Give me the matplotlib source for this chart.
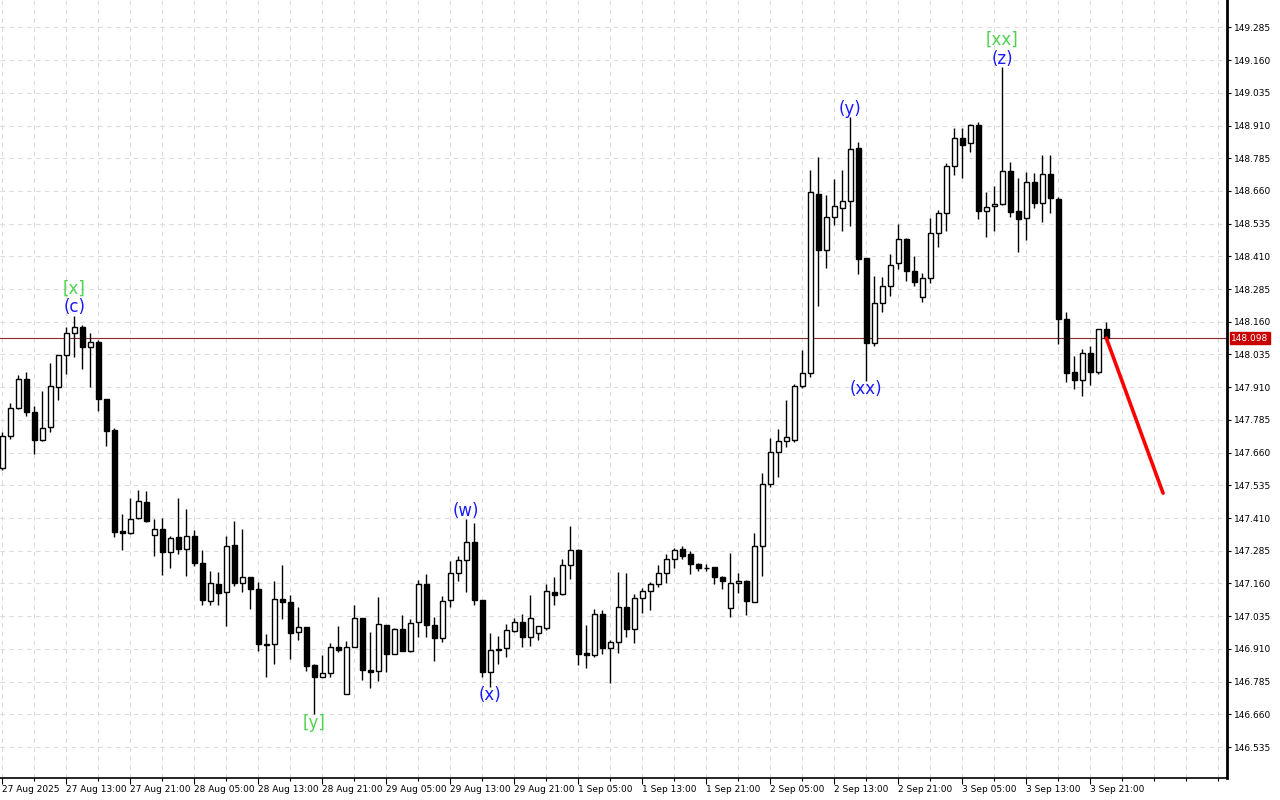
import matplotlib
matplotlib.use('Agg')
import matplotlib.pyplot as plt
from matplotlib.ticker import FixedLocator

# ---------------- data (hourly bars, USDJPY-like) ----------------
opens = [147.601,147.724,147.829,147.941,147.814,147.707,147.757,147.912,148.032,148.116,
         148.139,148.065,148.083,147.865,147.745,147.361,147.352,147.409,147.470,147.344,
         147.367,147.279,147.336,147.293,147.341,147.237,147.092,147.157,147.126,147.306,
         147.163,147.184,147.139,146.929,146.928,147.100,147.089,146.973,146.993,146.847,
         146.804,146.817,146.916,146.739,146.918,147.027,146.829,146.824,147.000,146.892,
         146.985,146.903,147.012,147.157,147.000,146.951,147.096,147.199,147.249,147.317,
         147.096,146.823,146.905,146.912,146.977,147.014,146.957,146.970,146.989,147.127,
         147.119,147.229,147.288,146.894,146.886,147.042,146.912,146.935,147.069,146.985,
         147.103,147.130,147.158,147.199,147.252,147.291,147.272,147.233,147.220,147.222,
         147.184,147.065,147.161,147.168,147.090,147.302,147.539,147.661,147.703,147.708,
         147.915,147.963,148.647,148.434,148.560,148.594,148.620,148.824,148.403,148.080,
         148.231,148.296,148.383,148.475,148.353,148.254,148.326,148.498,148.577,148.754,
         148.861,148.842,148.911,148.582,148.602,148.609,148.735,148.582,148.555,148.693,
         148.613,148.724,148.628,148.170,147.967,147.938,148.040,147.967,148.131]
highs = [147.739,147.848,147.957,147.968,147.838,147.896,148.002,148.033,148.141,148.182,
         148.148,148.116,148.090,147.865,147.753,147.424,147.486,147.517,147.513,147.406,
         147.410,147.341,147.487,147.445,147.364,147.288,147.208,147.204,147.341,147.399,
         147.368,147.186,147.165,146.966,147.168,147.231,147.116,147.070,146.995,146.851,
         146.886,146.934,146.998,146.940,147.077,147.029,146.975,147.107,147.002,146.989,
         147.038,147.023,147.173,147.196,147.032,147.111,147.246,147.265,147.405,147.390,
         147.098,146.970,146.959,147.004,147.027,147.042,147.116,146.998,147.158,147.186,
         147.252,147.380,147.290,147.001,147.062,147.059,146.944,147.204,147.199,147.119,
         147.142,147.165,147.231,147.273,147.294,147.303,147.284,147.239,147.234,147.224,
         147.189,147.275,147.201,147.173,147.352,147.581,147.717,147.750,147.861,147.922,
         148.052,148.740,148.789,148.643,148.706,148.740,148.941,148.848,148.405,148.335,
         148.332,148.419,148.534,148.480,148.411,148.345,148.555,148.587,148.767,148.899,
         148.899,148.916,148.922,148.655,148.679,149.132,148.769,148.709,148.732,148.727,
         148.796,148.797,148.638,148.196,148.029,148.055,148.067,148.133,148.159]
lows = [147.594,147.711,147.826,147.800,147.654,147.705,147.740,147.861,147.960,148.027,
        147.980,147.912,147.820,147.686,147.339,147.288,147.350,147.407,147.396,147.266,
        147.194,147.220,147.274,147.190,147.228,147.078,147.078,147.079,146.999,147.152,
        147.129,147.064,146.902,146.804,146.853,147.025,146.873,146.944,146.827,146.660,
        146.801,146.804,146.899,146.737,146.916,146.792,146.762,146.789,146.823,146.889,
        146.901,146.899,146.957,146.957,146.865,146.938,147.071,147.171,147.129,147.078,
        146.804,146.766,146.853,146.880,146.975,146.918,146.921,146.944,146.982,147.078,
        147.117,147.178,146.849,146.837,146.880,146.891,146.781,146.895,146.957,146.934,
        147.048,147.058,147.148,147.163,147.220,147.252,147.195,147.209,147.209,147.157,
        147.139,147.031,147.122,147.041,147.088,147.190,147.528,147.568,147.683,147.701,
        147.906,147.950,148.220,148.364,148.530,148.507,148.527,148.343,147.935,148.067,
        148.198,148.260,148.362,148.317,148.297,148.237,148.307,148.447,148.507,148.721,
        148.708,148.808,148.552,148.485,148.508,148.607,148.562,148.428,148.473,148.596,
        148.542,148.575,148.074,147.929,147.904,147.878,147.917,147.959,148.084]
closes = [147.724,147.829,147.940,147.814,147.707,147.753,147.913,148.032,148.116,148.139,
          148.065,148.082,147.864,147.744,147.356,147.352,147.405,147.474,147.400,147.367,
          147.281,147.333,147.293,147.340,147.239,147.096,147.161,147.122,147.302,147.163,
          147.186,147.138,146.928,146.926,147.100,147.090,146.972,146.993,146.846,146.804,
          146.817,146.916,146.907,146.918,147.027,146.831,146.823,147.004,146.889,146.985,
          146.903,147.010,147.157,147.000,146.951,147.092,147.199,147.249,147.317,147.096,
          146.823,146.905,146.911,146.981,147.014,146.957,147.027,146.996,147.131,147.117,
          147.229,147.287,146.892,146.888,147.042,146.912,146.935,147.069,146.985,147.103,
          147.130,147.157,147.199,147.252,147.287,147.266,147.233,147.218,147.218,147.184,
          147.171,147.161,147.168,147.092,147.302,147.539,147.661,147.703,147.721,147.915,
          147.963,148.655,148.434,148.560,148.601,148.622,148.819,148.400,148.080,148.231,
          148.296,148.377,148.475,148.355,148.313,148.326,148.498,148.575,148.754,148.861,
          148.837,148.911,148.584,148.597,148.610,148.735,148.581,148.554,148.693,148.615,
          148.724,148.632,148.170,147.965,147.938,148.040,147.969,148.131,148.098]

time_labels = ['27 Aug 2025', '27 Aug 13:00', '27 Aug 21:00', '28 Aug 05:00', '28 Aug 13:00',
               '28 Aug 21:00', '29 Aug 05:00', '29 Aug 13:00', '29 Aug 21:00', '1 Sep 05:00',
               '1 Sep 13:00', '1 Sep 21:00', '2 Sep 05:00', '2 Sep 13:00', '2 Sep 21:00',
               '3 Sep 05:00', '3 Sep 13:00', '3 Sep 21:00']
bars_per_label = 8

price_ticks = [146.535, 146.660, 146.785, 146.910, 147.035, 147.160, 147.285, 147.410,
               147.535, 147.660, 147.785, 147.910, 148.035, 148.160, 148.285, 148.410,
               148.535, 148.660, 148.785, 148.910, 149.035, 149.160, 149.285]
last_price = 148.098

# forecast arrow (bar index, price)
forecast_x = [138, 145.1]
forecast_y = [148.098, 147.505]

# wave labels: text, bar index, price, colour group
wave_text = ['[x]', '(c)', '[y]', '(w)', '(x)', '(y)', '(xx)', '[xx]', '(z)']
wave_bar = [9, 9, 39, 58, 61, 106, 108, 125, 125]
wave_price = [148.285, 148.216, 146.627, 147.437, 146.734, 148.973, 147.903, 149.237, 149.164]
wave_group = ['major', 'minor', 'major', 'minor', 'minor', 'minor', 'minor', 'major', 'minor']

# ---------------- figure ----------------
W, H = 1280, 800
fig = plt.figure(figsize=(W / 100, H / 100), dpi=100)
ax = fig.add_axes([0, 22 / H, 1227 / W, 778 / H])
ax.set_facecolor('white')

n = len(opens)
xs = list(range(n))

ax.set_xlim(-0.2875, 153.09)
ax.set_ylim(146.4167, 149.3896)

# grid
for p in price_ticks:
    ax.axhline(p, color='#dcdcdc', lw=0.8, ls=(0, (4, 4)), zorder=0)
for k in range(0, 154, 4):
    ax.axvline(k, color='#dcdcdc', lw=0.8, ls=(0, (4, 4)), zorder=0)

# candles
body_w = 0.6
for i in xs:
    o, h, l, c = opens[i], highs[i], lows[i], closes[i]
    ax.vlines(i, l, h, color='black', lw=1.0, zorder=2)
    bull = c > o
    bottom = min(o, c)
    height = max(abs(c - o), 0.0015)
    ax.bar(i, height, bottom=bottom, width=body_w,
           color='white' if bull else 'black', edgecolor='black', lw=1.0, zorder=3)

# bid line
ax.axhline(last_price, color='#8c2a2a', lw=0.8, zorder=1)

# forecast line
ax.plot(forecast_x, forecast_y, color='#ff0000', lw=2.6, zorder=4, solid_capstyle='round')

# wave labels
colors = {'major': '#52d152', 'minor': '#1a1aff'}
for t, b, p, g in zip(wave_text, wave_bar, wave_price, wave_group):
    ax.text(b, p, t, color=colors[g], fontsize=12, ha='center', va='center', zorder=5)

# axes styling
for s in ['top', 'left']:
    ax.spines[s].set_visible(False)
ax.spines['right'].set_linewidth(2.0)
ax.spines['bottom'].set_linewidth(1.2)

ax.yaxis.tick_right()
ax.set_yticks(price_ticks)
ax.set_yticklabels([f'{p:.3f}' for p in price_ticks])
ax.tick_params(axis='y', direction='out', length=3, width=0.8, labelsize=6.5, pad=2)

major_x = [bars_per_label * i for i in range(len(time_labels))]
ax.set_xticks(major_x)
ax.set_xticklabels(time_labels)
ax.xaxis.set_minor_locator(FixedLocator([m + 4 for m in major_x] + [144, 148, 152]))
ax.tick_params(axis='x', which='major', direction='out', length=4, width=0.8, labelsize=6.5, pad=1)
ax.tick_params(axis='x', which='minor', direction='out', length=2, width=0.8)
for lab in ax.get_xticklabels():
    lab.set_horizontalalignment('left')

# price label box on right axis
ax.text(1.0035, last_price, f'{last_price:.3f}', transform=ax.get_yaxis_transform(),
        ha='left', va='center', fontsize=6.5, color='white', zorder=10,
        bbox=dict(boxstyle='square,pad=0.15', fc='#c80000', ec='#c80000'), clip_on=False)

fig.savefig('out.png', dpi=100, facecolor='white')
